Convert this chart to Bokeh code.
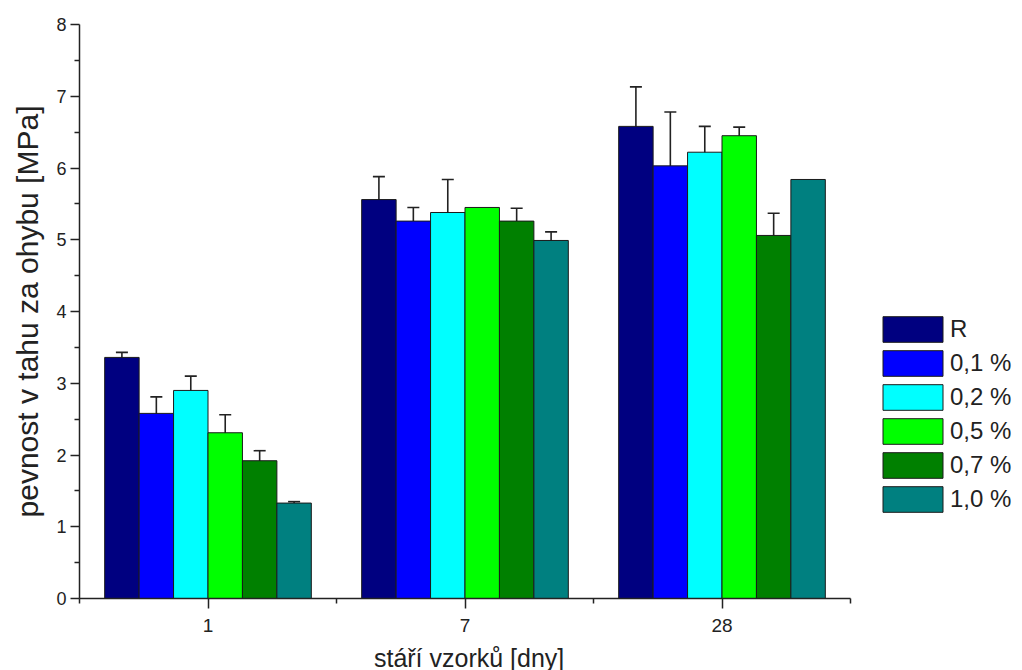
from bokeh.plotting import figure
from bokeh.layouts import column
from bokeh.models import (ColumnDataSource, Range1d, FixedTicker, Whisker, TeeHead,
                          Legend, LegendItem)
from bokeh.core.properties import value
from bokeh.embed import file_html
from bokeh.resources import INLINE

# ---- data ----
categories = ["1", "7", "28"]
series = ["R", "0,1 %", "0,2 %", "0,5 %", "0,7 %", "1,0 %"]
colors = ["#000080", "#0000FF", "#00FFFF", "#00FF00", "#008000", "#008080"]

val_R = [3.36, 5.56, 6.58]
val_01 = [2.58, 5.26, 6.03]
val_02 = [2.90, 5.38, 6.22]
val_05 = [2.31, 5.45, 6.45]
val_07 = [1.92, 5.26, 5.06]
val_10 = [1.33, 4.99, 5.84]

err_R = [0.07, 0.32, 0.55]
err_01 = [0.23, 0.19, 0.75]
err_02 = [0.20, 0.46, 0.36]
err_05 = [0.25, 0.00, 0.12]
err_07 = [0.14, 0.18, 0.31]
err_10 = [0.02, 0.12, 0.00]

values = [val_R, val_01, val_02, val_05, val_07, val_10]
errors = [err_R, err_01, err_02, err_05, err_07, err_10]

x_title = "stáří vzorků [dny]"
y_title = "pevnost v tahu za ohybu [MPa]"

FONT = "Liberation Sans"
TXT = "#222222"

# layout constants (pixels)
W = 1022
H_MAIN, H_TITLE = 644, 26
LEFT, RIGHT, TOP, BOTTOM = 79, 5, 24, 46
AXIS_PX = 771.0
frame_w = W - LEFT - RIGHT
x_end = 0.5 + 3.0 * frame_w / AXIS_PX

p = figure(width=W, height=H_MAIN, output_backend="svg", toolbar_location=None,
           x_range=Range1d(0.5, x_end), y_range=Range1d(0, 8),
           min_border_left=LEFT, min_border_right=RIGHT, min_border_top=TOP,
           min_border_bottom=BOTTOM)
p.outline_line_color = None
p.xgrid.visible = False
p.ygrid.visible = False
p.background_fill_color = "white"
p.border_fill_color = "white"

bar_w = 0.134
group_x = [1, 2, 3]
items = []
for i, (name, col, vals, errs) in enumerate(zip(series, colors, values, errors)):
    xs = [g + (i - 2.5) * bar_w for g in group_x]
    src = ColumnDataSource(dict(x=xs, top=vals))
    r = p.vbar(x="x", top="top", width=bar_w, source=src, fill_color=col,
               line_color="#1a1a1a", line_width=1)
    items.append(LegendItem(label=name, renderers=[r]))
    ex = [x for x, e in zip(xs, errs) if e > 0]
    up = [v + e for v, e in zip(vals, errs) if e > 0]
    lo = [v - e for v, e in zip(vals, errs) if e > 0]
    esrc = ColumnDataSource(dict(x=ex, upper=up, lower=lo))
    w = Whisker(source=esrc, base="x", upper="upper", lower="lower",
                line_color="#222222", line_width=1.6,
                upper_head=TeeHead(size=12, line_color="#222222", line_width=1.6),
                lower_head=TeeHead(size=12, line_color="#222222", line_width=1.6))
    p.add_layout(w)

# axes
for ax in (p.xaxis[0], p.yaxis[0]):
    ax.axis_line_color = "#222222"
    ax.axis_line_width = 1.5
    ax.major_tick_line_color = "#222222"
    ax.minor_tick_line_color = "#222222"
    ax.major_tick_line_width = 1.5
    ax.minor_tick_line_width = 1.5
    ax.major_tick_in = 0
    ax.minor_tick_in = 0
    ax.major_label_text_font = FONT
    ax.major_label_text_color = TXT
    ax.axis_label_text_font = FONT
    ax.axis_label_text_color = TXT
    ax.axis_label_text_font_style = "normal"

p.xaxis.bounds = (0.5, 3.5)
p.xaxis.ticker = FixedTicker(ticks=[1, 2, 3], minor_ticks=[0.5, 1.5, 2.5, 3.5])
p.xaxis.major_label_overrides = {1: categories[0], 2: categories[1], 3: categories[2]}
p.xaxis.major_tick_out = 10
p.xaxis.minor_tick_out = 5
p.xaxis.major_label_text_font_size = "19px"
p.xaxis.major_label_standoff = 10

p.yaxis.ticker = FixedTicker(ticks=list(range(0, 9)),
                             minor_ticks=[k + 0.5 for k in range(0, 8)])
p.yaxis.major_tick_out = 9
p.yaxis.minor_tick_out = 5
p.yaxis.major_label_text_font_size = "18px"
p.yaxis.major_label_standoff = 4
p.yaxis.axis_label = y_title
p.yaxis.axis_label_text_font_size = "30px"
p.yaxis.axis_label_standoff = 9

legend = Legend(items=items, location=(796, 83), orientation="vertical",
                glyph_width=75, glyph_height=32, label_height=32,
                label_standoff=0, spacing=2, padding=0, margin=0,
                border_line_color=None, background_fill_alpha=0,
                label_text_font=FONT, label_text_font_size="24px",
                label_text_color=TXT)
p.add_layout(legend)

# strip below holding the x-axis title
t = figure(width=W, height=H_TITLE, output_backend="svg", toolbar_location=None,
           x_range=Range1d(0, W), y_range=Range1d(0, H_TITLE),
           x_axis_type=None, y_axis_type=None, min_border=0)
t.outline_line_color = None
t.xgrid.visible = False
t.ygrid.visible = False
t.text(x=[LEFT + AXIS_PX / 2 - 40], y=[13], text=[x_title],
       text_align="center", text_baseline="alphabetic",
       text_font=value(FONT), text_font_size="25px", text_color=TXT)

layout = column(p, t, spacing=0)
open("out.html", "w").write(file_html(layout, INLINE))
